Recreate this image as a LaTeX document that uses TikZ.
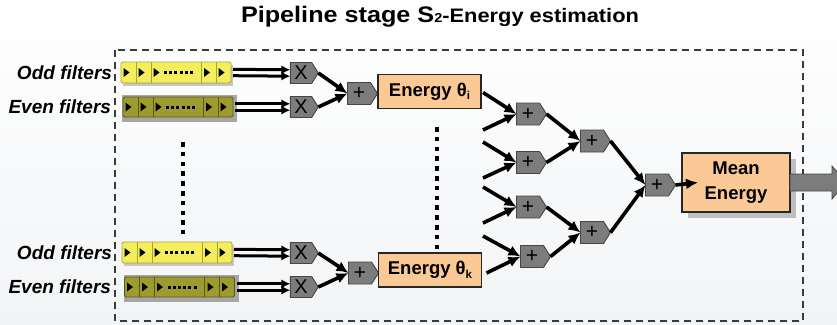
\documentclass[tikz,border=0pt]{standalone}
\usepackage{fontspec}
\setmainfont{Liberation Sans}
\newfontfamily\titlefont[FakeStretch=1.12]{Liberation Sans}
\usetikzlibrary{shapes.symbols,arrows.meta,calc}

\definecolor{bgbot}{HTML}{F2F4F6}
\definecolor{oddfill}{HTML}{F4EE5C}
\definecolor{oddedge}{HTML}{A9A23A}
\definecolor{evenfill}{HTML}{9E9B2E}
\definecolor{evenedge}{HTML}{5A581A}
\definecolor{opgrey}{HTML}{7C7C7C}
\definecolor{opedge}{HTML}{454545}
\definecolor{peach}{HTML}{FBC995}
\definecolor{frame}{HTML}{3A3A3A}

\pgfdeclarelayer{bg}
\pgfdeclarelayer{shade}
\pgfsetlayers{bg,shade,main}

\tikzset{
  every node/.style={inner sep=0pt, outer sep=0pt},
  opnode/.style={signal, signal to=east, signal pointer angle=115,
    draw=opedge, fill=opgrey, line width=0.9pt,
    minimum width=30pt, minimum height=22pt,
    font=\fontsize{21}{21}\selectfont},
  mulnode/.style={opnode, minimum width=28pt, minimum height=21pt,
    font=\fontsize{20}{20}\selectfont},
  energybox/.style={draw=black!85, fill=peach, line width=1.3pt,
    minimum width=103pt, minimum height=34pt,
    font=\bfseries\fontsize{18.5}{25}\selectfont},
  oddbar/.style={draw=oddedge, fill=oddfill, line width=0.8pt,
    minimum width=110pt, minimum height=21pt, rounded corners=1.5pt},
  evenbar/.style={draw=evenedge, fill=evenfill, line width=0.8pt,
    minimum width=110pt, minimum height=20pt, rounded corners=1.5pt},
  flabel/.style={font=\bfseries\itshape\fontsize{19}{19}\selectfont, anchor=east},
  flow/.style={line width=3.6pt, -{Latex[length=12pt,width=11pt]}},
  busline/.style={line width=3pt, -{Latex[length=9pt,width=9pt]}},
  dotcol/.style={line width=4.5pt, dash pattern=on 4.5pt off 5.3pt},
  stageframe/.style={draw=frame, line width=1.8pt, dash pattern=on 7pt off 5pt},
}

% register cells of a filter bank: dividers, shift triangles and dots
\newcommand\cellmarks[2]{%
  \foreach \d in {15,30,80,95}
    \draw[#2, line width=0.7pt] ($(#1.north west)+(\d,0)$) -- ($(#1.south west)+(\d,0)$);
  \foreach \t in {2.5,17.5,32.5,83,97.5}
    \fill ($(#1.west)+(\t,-4.5)$) -- ++(6,4.5) -- ++(-6,4.5) -- cycle;
  \foreach \k in {0,...,5}
    \fill ($(#1.west)+(43+\k*5.2,-1.5)$) rectangle ++(3,3);
}

\begin{document}
\begin{tikzpicture}[x=1pt, y=-1pt]
\useasboundingbox (0,0) rectangle (837,324);
\begin{pgfonlayer}{bg}
  \shade[top color=white, bottom color=bgbot] (0,0) rectangle (837,324);
\end{pgfonlayer}

% title
\node (title) at (440,17) {\titlefont\bfseries
  {\fontsize{22.5}{22}\selectfont Pipeline stage S}{\fontsize{13}{13}\selectfont 2}{\fontsize{19.5}{22}\selectfont -Energy estimation}};

% stage frame
\draw[stageframe] (115,50) rectangle (803,321);

% filter banks
\node[oddbar]  (ob1) at (176,72.5)  {};
\node[evenbar] (eb1) at (178,107)   {};
\node[oddbar]  (ob2) at (177,252.5) {};
\node[evenbar] (eb2) at (179.5,287) {};
\cellmarks{ob1}{oddedge}
\cellmarks{eb1}{evenedge}
\cellmarks{ob2}{oddedge}
\cellmarks{eb2}{evenedge}

\begin{pgfonlayer}{shade}
  \fill[black!22] ($(ob1.north west)+(2,3)$) rectangle ($(ob1.south east)+(2,3)$);
  \fill[black!22] ($(ob2.north west)+(2,3)$) rectangle ($(ob2.south east)+(2,3)$);
  \fill[black!35] ($(eb1.north west)+(-1,-2)$) rectangle ($(eb1.south east)+(4,5)$);
  \fill[black!35] ($(eb2.north west)+(-1,-2)$) rectangle ($(eb2.south east)+(4,5)$);
\end{pgfonlayer}

% labels
\node[flabel] (lo1) at (112,73)  {Odd filters};
\node[flabel] (le1) at (111,107) {Even filters};
\node[flabel] (lo2) at (112,253) {Odd filters};
\node[flabel] (le2) at (111,287) {Even filters};

% multipliers and first adders
\node[mulnode] (x1) at (301,73)  {X};
\node[mulnode] (x2) at (301,107) {X};
\node[mulnode] (x3) at (301,253) {X};
\node[mulnode] (x4) at (301,287) {X};
\node[opnode]  (s1) at (359,93.5) {+};
\node[opnode]  (s2) at (360,273)  {+};

% energy registers
\node[energybox] (ei) at (429.5,91.5) {Energy θ\raisebox{-3.5pt}{\fontsize{11.5}{11}\selectfont i}};
\node[energybox] (ek) at (430,270)    {Energy θ\raisebox{-3.5pt}{\fontsize{11.5}{11}\selectfont k}};

% adder tree
\node[opnode] (a1) at (528,114)   {+};
\node[opnode] (a2) at (528,162.5) {+};
\node[opnode] (a3) at (528,207)   {+};
\node[opnode] (a4) at (532,256.5) {+};
\node[opnode] (b1) at (592,141)   {+};
\node[opnode] (b2) at (592,232.5) {+};
\node[opnode] (c1) at (657,185)   {+};

% mean energy output
\node[energybox, minimum width=108pt, minimum height=59pt, align=center] (mean) at (736,182.5) {Mean\\Energy};
\begin{pgfonlayer}{shade}
  \fill[black!25] ($(mean.north west)+(6,6)$) rectangle ($(mean.south east)+(6,6)$);
\end{pgfonlayer}
\begin{scope}
  \clip (0,0) rectangle (837,324);
  \filldraw[draw=opedge, fill=opgrey, line width=0.8pt]
    ($(mean.east)+(0,-8.5)$) -- ++(42,0) -- ++(0,-8) -- ++(14,16.5)
    -- ++(-14,16.5) -- ++(0,-8) -- ++(-42,0) -- cycle;
\end{scope}

% elided rows
\coordinate (d1) at (183,142);
\coordinate (d2) at (183,234);
\coordinate (d3) at (437,127);
\coordinate (d4) at (437,250);
\draw[dotcol] (d1) -- (d2);
\draw[dotcol] (d3) -- (d4);

% filter outputs to multipliers
\foreach \f/\m in {ob1/x1, eb1/x2, ob2/x3, eb2/x4} {
  \draw[busline] ([shift={(2pt,3.2pt)}]\f.east) -- ([yshift=3.2pt]\m.west);
  \draw[busline] ([shift={(2pt,-3.2pt)}]\f.east) -- ([yshift=-3.2pt]\m.west);
}

% products to adders
\draw[flow] (x1.east) -- (s1.west);
\draw[flow] (x2.east) -- (s1.west);
\draw[flow] (x3.east) -- (s2.west);
\draw[flow] (x4.east) -- (s2.west);

% inputs of the first adder level
\coordinate (f1) at (483,130);
\coordinate (f2) at (483,142);
\coordinate (f3) at (483,178);
\coordinate (f4) at (483,187);
\coordinate (f5) at (483,223);
\coordinate (f6) at (483,236);
\draw[flow] ([shift={(2pt,-1pt)}]ei.east) -- (a1.west);
\draw[flow] (f1) -- (a1.west);
\draw[flow] (f2) -- (a2.west);
\draw[flow] (f3) -- (a2.west);
\draw[flow] (f4) -- (a3.west);
\draw[flow] (f5) -- (a3.west);
\draw[flow] (f6) -- (a4.west);
\draw[flow] ([shift={(5pt,-3pt)}]ek.east) -- (a4.west);

% reduction
\draw[flow] (a1.east) -- (b1.west);
\draw[flow] (a2.east) -- (b1.west);
\draw[flow] (a3.east) -- (b2.west);
\draw[flow] (a4.east) -- (b2.west);
\draw[flow] (b1.east) -- (c1.west);
\draw[flow] (b2.east) -- (c1.west);
\draw[flow] (c1.east) -- ([xshift=16pt]mean.west);
\end{tikzpicture}
\end{document}
